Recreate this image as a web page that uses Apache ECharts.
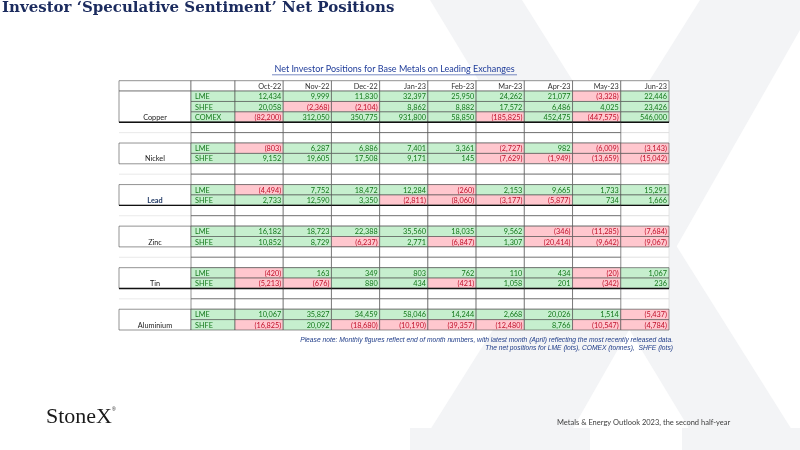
<!DOCTYPE html>
<html>
<head>
<meta charset="utf-8">
<script src="https://cdn.jsdelivr.net/npm/echarts@6/dist/echarts.min.js"></script>
<style>
  html, body { margin: 0; padding: 0; background: #fff; }
  #main { width: 800px; height: 450px; }
</style>
</head>
<body>
<div id="main"></div>
<script>
// table values (net positions)
var months = ['Oct-22', 'Nov-22', 'Dec-22', 'Jan-23', 'Feb-23', 'Mar-23', 'Apr-23', 'May-23', 'Jun-23'];
var metals = ['Copper', 'Nickel', 'Lead', 'Zinc', 'Tin', 'Aluminium'];
var exchangesByMetal = [['LME', 'SHFE', 'COMEX'], ['LME', 'SHFE'], ['LME', 'SHFE'], ['LME', 'SHFE'], ['LME', 'SHFE'], ['LME', 'SHFE']];

var copperLME = [12434, 9999, 11830, 32397, 25950, 24262, 21077, -3328, 22446];
var copperSHFE = [20058, -2368, -2104, 8862, 8882, 17572, 6486, 4025, 23426];
var copperCOMEX = [-82200, 312050, 350775, 931800, 58850, -185825, 452475, -447575, 546000];
var nickelLME = [-803, 6287, 6886, 7401, 3361, -2727, 982, -6009, -3143];
var nickelSHFE = [9152, 19605, 17508, 9171, 145, -7629, -1949, -13659, -15042];
var leadLME = [-4494, 7752, 18472, 12284, -260, 2153, 9665, 1733, 15291];
var leadSHFE = [2733, 12590, 3350, -2811, -8060, -3177, -5877, 734, 1666];
var zincLME = [16182, 18723, 22388, 35560, 18035, 9562, -346, -11285, -7684];
var zincSHFE = [10852, 8729, -6237, 2771, -6847, 1307, -20414, -9642, -9067];
var tinLME = [-420, 163, 349, 803, 762, 110, 434, -20, 1067];
var tinSHFE = [-5213, -676, 880, 434, -421, 1058, 201, -342, 236];
var aluminiumLME = [10067, 35827, 34459, 58046, 14244, 2668, 20026, 1514, -5437];
var aluminiumSHFE = [-16825, 20092, -18680, -10190, -39357, -12480, 8766, -10547, -4784];

var valuesByMetal = [
  [copperLME, copperSHFE, copperCOMEX],
  [nickelLME, nickelSHFE],
  [leadLME, leadSHFE],
  [zincLME, zincSHFE],
  [tinLME, tinSHFE],
  [aluminiumLME, aluminiumSHFE]
];

// styling
var GREEN_BG = '#c6efce', GREEN_TX = '#13781a';
var PINK_BG = '#ffc7ce', RED_TX = '#c0102a';
var GRID_LINE = '#4a4a4a';
var CELL_FONT = 'normal 7.3px Lato';
var thickBelow = { Copper: 1.5, Lead: 1.1, Tin: 1.5 };

function fmt(v) {
  var s = Math.abs(v).toString().replace(/\B(?=(\d{3})+(?!\d))/g, ',');
  return v < 0 ? '(' + s + ')' : s;
}

// build rows: header, then each metal's exchanges, two blank rows between metals
var rowIds = ['hdr'];
var cellData = [], cellMeta = [];
var exData = [], exMeta = [];
var metalData = [], metalMeta = [];

months.forEach(function (m, i) {
  cellData.push([i, 0]); cellMeta.push({ kind: 'h', label: m });
});
exData.push([0, 0]); exMeta.push({ kind: 'h' });
metalData.push([0, 0]); metalMeta.push({ kind: 'h', start: 0, end: 0 });

metals.forEach(function (metal, mi) {
  if (mi > 0) {
    for (var b = 0; b < 2; b++) {
      var rb = rowIds.length;
      rowIds.push('blank' + rb);
      months.forEach(function (m, i) {
        cellData.push([i, rb]); cellMeta.push({ kind: 'b', last: i === months.length - 1 });
      });
      exData.push([0, rb]); exMeta.push({ kind: 'b' });
      metalData.push([0, rb]); metalMeta.push({ kind: 'b', first: b === 0 });
    }
  }
  var start = rowIds.length;
  var exs = exchangesByMetal[mi];
  exs.forEach(function (ex, ei) {
    var r = rowIds.length;
    rowIds.push(metal + ' ' + ex);
    var lastRow = ei === exs.length - 1;
    var thick = lastRow ? (thickBelow[metal] || 0) : 0;
    valuesByMetal[mi][ei].forEach(function (v, i) {
      cellData.push([i, r]); cellMeta.push({ kind: 'v', v: v, thick: thick });
    });
    exData.push([0, r]); exMeta.push({ kind: 'e', label: ex, thick: thick });
  });
  metalData.push([0, start]);
  metalMeta.push({ kind: 'm', name: metal, start: start, end: rowIds.length - 1, thick: thickBelow[metal] || 0 });
});

function box(api, col, row) {
  var p = api.coord([col, row]);
  var s = api.size([1, 1]);
  return { x: p[0] - s[0] / 2, y: p[1] - s[1] / 2, w: s[0], h: s[1] };
}

function thickLine(b, w) {
  return { type: 'line', z2: 20, shape: { x1: b.x, y1: b.y + b.h, x2: b.x + b.w, y2: b.y + b.h }, style: { stroke: '#111', lineWidth: w } };
}

function renderCell(params, api) {
  var m = cellMeta[params.dataIndex];
  var b = box(api, api.value(0), api.value(1));
  var fill = '#fff', stroke = GRID_LINE, text = '', color = '#333';
  if (m.kind === 'v') {
    fill = m.v < 0 ? PINK_BG : GREEN_BG;
    color = m.v < 0 ? RED_TX : GREEN_TX;
    text = fmt(m.v);
  } else if (m.kind === 'h') {
    text = m.label;
  } else if (m.last) {
    stroke = '#d9d9d9';
  }
  var ch = [{ type: 'rect', z2: m.kind === 'b' && m.last ? 0 : 1, shape: { x: b.x, y: b.y, width: b.w, height: b.h }, style: { fill: fill, stroke: stroke, lineWidth: 0.6 } }];
  if (text) {
    ch.push({ type: 'text', z2: 5, style: { text: text, x: b.x + b.w - 2, y: b.y + b.h / 2 + 0.5, align: 'right', verticalAlign: 'middle', fill: color, font: CELL_FONT } });
  }
  if (m.thick) ch.push(thickLine(b, m.thick));
  return { type: 'group', children: ch };
}

function renderExchange(params, api) {
  var m = exMeta[params.dataIndex];
  var b = box(api, api.value(0), api.value(1));
  var ch = [{ type: 'rect', shape: { x: b.x, y: b.y, width: b.w, height: b.h }, style: { fill: m.kind === 'e' ? GREEN_BG : '#fff', stroke: GRID_LINE, lineWidth: 0.6 } }];
  if (m.kind === 'e') {
    ch.push({ type: 'text', z2: 5, style: { text: m.label, x: b.x + 4, y: b.y + b.h / 2 + 0.5, align: 'left', verticalAlign: 'middle', fill: GREEN_TX, font: CELL_FONT } });
  }
  if (m.thick) ch.push(thickLine(b, m.thick));
  return { type: 'group', children: ch };
}

function renderMetal(params, api) {
  var m = metalMeta[params.dataIndex];
  var b = box(api, api.value(0), api.value(1));
  if (m.kind === 'b') {
    if (!m.first) return { type: 'group', children: [] };
    return { type: 'line', shape: { x1: b.x, y1: b.y + b.h, x2: b.x + b.w, y2: b.y + b.h }, style: { stroke: '#dcdcdc', lineWidth: 0.6 } };
  }
  var e = box(api, 0, m.end);
  var ch = [{ type: 'rect', shape: { x: b.x, y: b.y, width: b.w, height: e.y + e.h - b.y }, style: { fill: '#fff', stroke: GRID_LINE, lineWidth: 0.6 } }];
  if (m.kind === 'm') {
    var lead = m.name === 'Lead';
    ch.push({ type: 'text', z2: 5, style: { text: m.name, x: b.x + b.w / 2, y: e.y + e.h / 2 + 0.5, align: 'center', verticalAlign: 'middle', fill: lead ? '#1f3864' : '#222', font: (lead ? 'bold ' : 'normal ') + '7.3px Lato' } });
  }
  if (m.thick) ch.push(thickLine(e, m.thick));
  return { type: 'group', children: ch };
}

var tableTop = 80.7, tableH = 249.3;
var grids = [
  { left: 119, width: 72, top: tableTop, height: tableH },
  { left: 191, width: 44, top: tableTop, height: tableH },
  { left: 235, width: 434, top: tableTop, height: tableH }
];

function yAx(gi) {
  return { type: 'category', gridIndex: gi, data: rowIds, inverse: true, show: false };
}

var WM = '#f3f4f6';
var option = {
  backgroundColor: '#fff',
  animation: false,
  grid: grids,
  xAxis: [
    { type: 'category', gridIndex: 0, data: ['metal'], show: false },
    { type: 'category', gridIndex: 1, data: ['exchange'], show: false },
    { type: 'category', gridIndex: 2, data: months, show: false }
  ],
  yAxis: [yAx(0), yAx(1), yAx(2)],
  title: {
    text: 'Investor \u2018Speculative Sentiment\u2019 Net Positions',
    left: 2, top: 1, padding: 0,
    textStyle: { fontFamily: 'DejaVu Serif', fontWeight: 'bold', fontSize: 15, color: '#1b2b5e' }
  },
  graphic: [
    // faint "X" watermark
    { type: 'polygon', z: -10, shape: { points: [[430, 0], [522, 0], [792, 430], [690, 430]] }, style: { fill: WM } },
    { type: 'polygon', z: -10, shape: { points: [[700, 0], [800, 0], [800, 30], [572, 430], [430, 430]] }, style: { fill: WM } },
    { type: 'rect', z: -10, shape: { x: 410, y: 428, width: 180, height: 22 }, style: { fill: WM } },
    { type: 'rect', z: -10, shape: { x: 682, y: 428, width: 118, height: 22 }, style: { fill: WM } },
    // table caption
    { type: 'text', style: { text: 'Net Investor Positions for Base Metals on Leading Exchanges', x: 394.5, y: 69.5, align: 'center', verticalAlign: 'middle', fill: '#1f3c9a', font: 'normal 9px Lato' } },
    { type: 'line', shape: { x1: 272, y1: 74.8, x2: 517, y2: 74.8 }, style: { stroke: '#1f3c9a', lineWidth: 0.6 } },
    // notes
    { type: 'text', style: { text: 'Please note: Monthly figures reflect end of month numbers, with latest month (April) reflecting the most recently released data.', x: 673, y: 340, align: 'right', verticalAlign: 'middle', fill: '#1f3c88', font: 'italic 6.7px "Liberation Sans"' } },
    { type: 'text', style: { text: 'The net positions for LME (lots), COMEX (tonnes),  SHFE (lots)', x: 673, y: 348, align: 'right', verticalAlign: 'middle', fill: '#1f3c88', font: 'italic 6.7px "Liberation Sans"' } },
    // footer
    { type: 'text', style: { text: 'StoneX', x: 46, y: 417, align: 'left', verticalAlign: 'middle', fill: '#1a1a1a', font: 'normal 22px "Liberation Serif"' } },
    { type: 'text', style: { text: '\u00ae', x: 112, y: 410, align: 'left', verticalAlign: 'middle', fill: '#222', font: 'normal 5px "Liberation Sans"' } },
    { type: 'text', style: { text: 'Metals & Energy Outlook 2023, the second half-year', x: 557, y: 423, align: 'left', verticalAlign: 'middle', fill: '#404040', font: 'normal 7.5px Lato' } }
  ],
  series: [
    { type: 'custom', xAxisIndex: 0, yAxisIndex: 0, data: metalData, renderItem: renderMetal, silent: true },
    { type: 'custom', xAxisIndex: 1, yAxisIndex: 1, data: exData, renderItem: renderExchange, silent: true },
    { type: 'custom', xAxisIndex: 2, yAxisIndex: 2, data: cellData, renderItem: renderCell, silent: true }
  ]
};

var chart = echarts.init(document.getElementById('main'));
chart.setOption(option);
</script>
</body>
</html>
